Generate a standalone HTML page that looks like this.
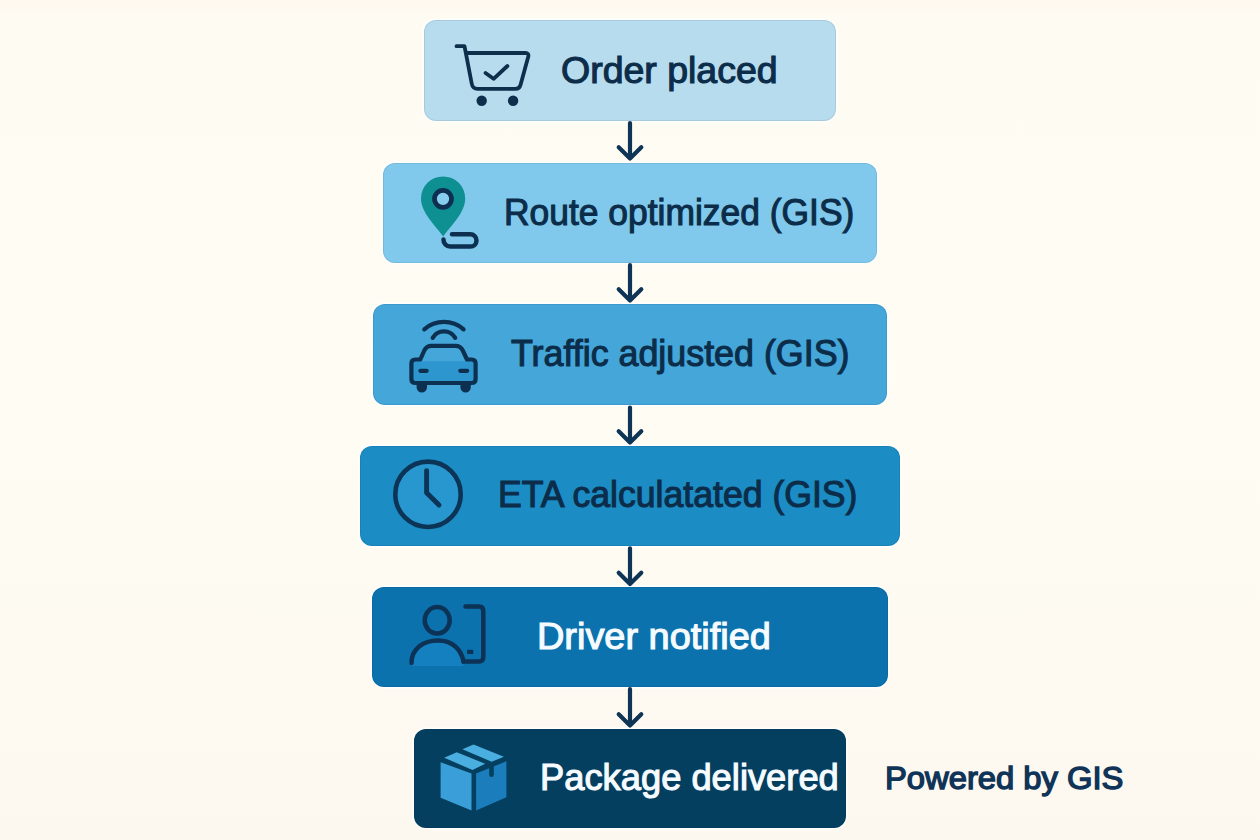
<!DOCTYPE html>
<html>
<head>
<meta charset="utf-8">
<title>GIS Delivery Flow</title>
<style>
html,body{margin:0;padding:0;}
body{width:1260px;height:840px;overflow:hidden;background:linear-gradient(to bottom,#fff8ef 0px,#fefbf2 16px,#fefcf3 45%,#fefaf1 80%,#fdf8ef 100%);position:relative;font-family:"Liberation Sans",sans-serif;}
.box{position:absolute;border-radius:12px;box-shadow:0 0 0 1px rgba(255,255,255,.85), 0 0 0 2px rgba(255,255,255,.45), inset 0 0 0 1px rgba(0,30,60,.09);}
.lbl{position:absolute;white-space:nowrap;font-size:36px;line-height:1;transform-origin:0 0;color:#0c2d4a;-webkit-text-stroke:1.1px #0c2d4a;}
.lbl.w{color:#f6fbff;-webkit-text-stroke:1.1px #f6fbff;}
svg{position:absolute;left:0;top:0;overflow:visible;}
</style>
</head>
<body>
<div class="box" style="left:424px;top:20px;width:412px;height:101px;background:#b7dcee;"></div>
<div class="box" style="left:383px;top:163px;width:494px;height:100px;background:#81c9ec;"></div>
<div class="box" style="left:373px;top:304px;width:514px;height:101px;background:#44a6d9;"></div>
<div class="box" style="left:360px;top:446px;width:540px;height:100px;background:#1b8cc4;"></div>
<div class="box" style="left:372px;top:587px;width:516px;height:100px;background:#0b72ae;"></div>
<div class="box" style="left:414px;top:729px;width:432px;height:99px;background:#043f5f;"></div>

<div class="lbl" style="left:560.8px;top:53.4px;transform:scaleX(1.0409);">Order placed</div>
<div class="lbl" style="left:503.7px;top:195.2px;transform:scaleX(0.9836);">Route optimized (GIS)</div>
<div class="lbl" style="left:511.0px;top:336.4px;transform:scaleX(0.9952);">Traffic adjusted (GIS)</div>
<div class="lbl" style="left:497.8px;top:476.9px;transform:scaleX(0.9888);">ETA calculatated (GIS)</div>
<div class="lbl w" style="left:536.7px;top:619.0px;transform:scaleX(1.0527);">Driver notified</div>
<div class="lbl w" style="left:539.7px;top:760.0px;transform:scaleX(1.0088);">Package delivered</div>
<div class="lbl" style="left:884.6px;top:761.5px;font-size:32px;-webkit-text-stroke:1.4px #0f3458;color:#0f3458;transform:scaleX(1.0233);">Powered by GIS</div>

<svg width="1260" height="840" viewBox="0 0 1260 840">
  <!-- arrows -->
  <g fill="none" stroke="#0f3556" stroke-width="4.2" stroke-linecap="round" stroke-linejoin="round">
    <path d="M630 123 V158.5 M618.7 147.2 L630 158.5 L641.3 147.2"/>
    <path d="M630 265.2 V300.5 M618.7 289.2 L630 300.5 L641.3 289.2"/>
    <path d="M630 407.5 V442.5 M618.7 431.2 L630 442.5 L641.3 431.2"/>
    <path d="M630 548.3 V584 M618.7 572.7 L630 584 L641.3 572.7"/>
    <path d="M630 689.2 V725.5 M618.7 714.2 L630 725.5 L641.3 714.2"/>
  </g>
  <!-- cart -->
  <g fill="none" stroke="#0e2f4c" stroke-width="3.8" stroke-linecap="round" stroke-linejoin="round">
    <path d="M456.5 46.2 H464.5 L471.8 84 Q472.8 88.8 477.5 88.8 H515.5 Q519.5 88.8 520.5 85 L528.3 56.5 Q529 53 525.5 53 H466"/>
    <path d="M485.5 73 L493.6 78.8 L507.4 66"/>
  </g>
  <g fill="#0e2f4c"><circle cx="481.7" cy="100.7" r="5.2"/><circle cx="513.1" cy="100.7" r="5.2"/></g>
  <!-- pin -->
  <path d="M443.2 236.5 C436 226 421 213 421 198.5 A22.1 22.1 0 0 1 465.2 198.5 C465.2 213 450.5 226 443.2 236.5 Z" fill="#0e8f91"/>
  <circle cx="443" cy="198.8" r="8.5" fill="#88cdee" stroke="#0d3050" stroke-width="4.7"/>
  <path d="M443.5 239.5 A6.8 6.8 0 0 0 450.3 246.6 H470.3 A6.2 6.2 0 0 0 470.3 234.2 H452" fill="none" stroke="#0d3050" stroke-width="4.5" stroke-linecap="round"/>
  <!-- car -->
  <path d="M413 361.2 H474 V381 H413 Z" fill="#2d96cf"/>
  <g fill="none" stroke="#0d3050" stroke-width="4.2" stroke-linecap="round" stroke-linejoin="round">
    <path d="M424.3 329.3 A30 30 0 0 1 463.6 329.3"/>
    <path d="M432.7 337.9 A13 13 0 0 1 455.2 337.9"/>
    <path d="M411.4 363.5 Q411.4 359.5 415.4 359.5 H420.3 L424.3 350.5 Q426.5 345.9 431.5 345.9 H455.5 Q460.5 345.9 462.8 350.5 L467 359.5 H471.6 Q475.6 359.5 475.6 363.5 V379 Q475.6 383 471.6 383 H415.4 Q411.4 383 411.4 379 Z"/>
    <path d="M420.4 370.8 H426.7 M460.3 370.8 H467.2"/>
  </g>
  <g fill="#0d3050">
    <path d="M416.6 383 V387.2 A5.2 5.2 0 0 0 427 387.2 V383 Z"/>
    <path d="M460.4 383 V387.2 A5.2 5.2 0 0 0 470.8 387.2 V383 Z"/>
  </g>
  <!-- clock -->
  <circle cx="428" cy="494.3" r="32.7" fill="#2896cf" stroke="#0b3456" stroke-width="4.6"/>
  <path d="M426.6 470.6 V492.8 L439 505" fill="none" stroke="#0b3456" stroke-width="4.9" stroke-linecap="round" stroke-linejoin="round"/>
  <!-- driver -->
  <path d="M411.5 663 C411.5 649 423 640.5 438 640.5 C452 640.5 461 649 463.5 661.5 V666 H411.5 Z" fill="#1580bf"/>
  <g fill="none" stroke="#0c3256" stroke-width="4.5" stroke-linecap="round" stroke-linejoin="round">
    <ellipse cx="437.2" cy="620.3" rx="12.5" ry="13.2"/>
    <path d="M411.5 663 C411.5 649 423 640.5 438 640.5 C452 640.5 461 649 463.5 661.5"/>
    <path d="M463.5 661.5 H479 Q483.3 661.5 483.3 657 V611 Q483.3 606.4 479 606.4 H465.5"/>
  </g>
  <rect x="467.1" y="649.8" width="6.2" height="4.2" fill="#0c3256"/>
  <!-- package -->
  <polygon points="444.2,757.8 456.8,752.2 485.2,763.8 472.5,769.9" fill="#4aaee0"/>
  <polygon points="462.4,749.2 473.5,744.6 503.9,756.8 491.7,761.8" fill="#4aaee0"/>
  <polygon points="440.6,762.3 471.5,773.5 471.5,810.4 440.6,797.8" fill="#3a9fd8"/>
  <polygon points="476.1,773.5 506.4,761.3 506.4,797.2 476.1,810.4" fill="#1c7dbc"/>
  <path d="M489.2 764 H493.8 V774.7 A2.3 2.3 0 0 1 489.2 774.7 Z" fill="#043f5f"/>
</svg>
</body>
</html>
